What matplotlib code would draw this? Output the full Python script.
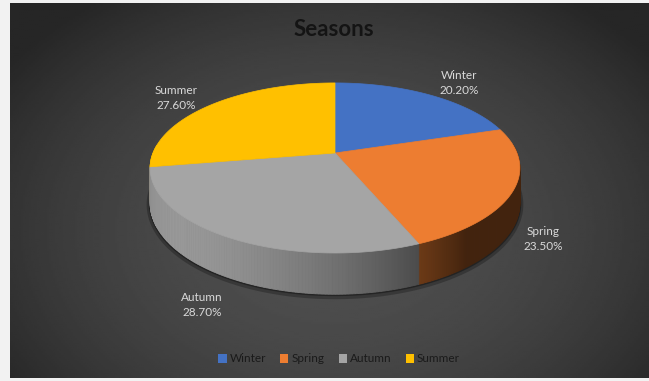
import numpy as np
import matplotlib.pyplot as plt
from matplotlib.patches import Polygon, Patch
import matplotlib.colors as mcolors

plt.rcParams['font.family'] = ['Lato', 'DejaVu Sans']

seasons = ['Winter', 'Spring', 'Autumn', 'Summer']
shares = [20.2, 23.5, 28.7, 27.6]
colors = ['#4472C4', '#ED7D31', '#A5A5A5', '#FFC000']
label_xy = [(459, 83), (543, 239), (202, 305), (176, 98)]

# pie geometry in pixel coords (perspective ellipse)
CX, CY = 335, 153
R, H, K, T = 182, 82.4, 0.176, 34


def proj(theta, depth=0.0):
    u, v = np.cos(theta), np.sin(theta)
    d = 1 + K * v
    return CX + R * u / d, CY - H * v / d + depth * T / d


def shade(color, f):
    return tuple(np.array(mcolors.to_rgb(color)) * f)


fig = plt.figure(figsize=(6.49, 3.81), dpi=100, facecolor='#f2f2f2')
ax = fig.add_axes([0, 0, 1, 1])

# dark radial background panel
gx, gy = np.meshgrid(np.linspace(10, 649, 320), np.linspace(3, 378, 190))
r2 = ((gx - 335) / 360) ** 2 + ((gy - 230) / 260) ** 2
grad = np.clip(0.31 - 0.13 * r2, 0.15, 1)
ax.imshow(grad, extent=(10, 649, 378, 3), cmap='gray', vmin=0, vmax=1,
          aspect='auto', zorder=0, interpolation='bilinear')

bounds = np.radians(90 - 360 * np.cumsum([0] + shares) / sum(shares))

# soft shadow under the pie
ts = np.linspace(np.radians(-195), np.radians(15), 200)
sx, sy = proj(ts, 1.0)
ax.plot(sx, sy + 1.5, color='black', lw=5, alpha=0.25, zorder=1,
        solid_capstyle='round')
ax.plot(sx, sy + 0.5, color='black', lw=2, alpha=0.35, zorder=1)

# side walls
quads = []
for i, c in enumerate(colors):
    a = np.linspace(bounds[i], bounds[i + 1], 120)
    for t0, t1 in zip(a[:-1], a[1:]):
        m = 0.5 * (t0 + t1)
        if np.sin(m) > 0.1:
            continue
        light = np.cos(m - np.radians(-140))
        f = np.clip(0.26 + 0.66 * light, 0.28, 0.93)
        x0, y0 = proj(t0)
        x1, y1 = proj(t1)
        x2, y2 = proj(t1, 1.0)
        x3, y3 = proj(t0, 1.0)
        quads.append((np.sin(m), [(x0, y0), (x1, y1), (x2, y2), (x3, y3)],
                      shade(c, f)))
quads.sort(key=lambda q: -q[0])
for _, pts, col in quads:
    ax.add_patch(Polygon(pts, closed=True, facecolor=col, edgecolor=col,
                         lw=0.6, zorder=2))

# top faces
for i, c in enumerate(colors):
    a = np.linspace(bounds[i], bounds[i + 1], 120)
    px, py = proj(a)
    pts = [(CX, CY)] + list(zip(px, py))
    ax.add_patch(Polygon(pts, closed=True, facecolor=c, edgecolor=c,
                         lw=0.5, zorder=3))

# data labels
for name, share, (lx, ly) in zip(seasons, shares, label_xy):
    ax.text(lx, ly, f'{name}\n{share:.2f}%', ha='center', va='center',
            color='#d9d9d9', fontsize=8.5, linespacing=1.35, zorder=5)

ax.text(334, 30, 'Seasons', ha='center', va='center', fontsize=16,
        fontweight='bold', color='#141414', zorder=5)

handles = [Patch(facecolor=c, edgecolor='none') for c in colors]
ax.legend(handles, seasons, loc='center', bbox_to_anchor=(339, 359),
          bbox_transform=ax.transData, ncol=4, frameon=False,
          handlelength=0.7, handleheight=0.7, handletextpad=0.25,
          columnspacing=1.2, fontsize=8.5, labelcolor='#1a1a1a')

ax.set_xlim(0, 649)
ax.set_ylim(381, 0)
ax.axis('off')

plt.savefig('out.png', dpi=100, facecolor=fig.get_facecolor())
